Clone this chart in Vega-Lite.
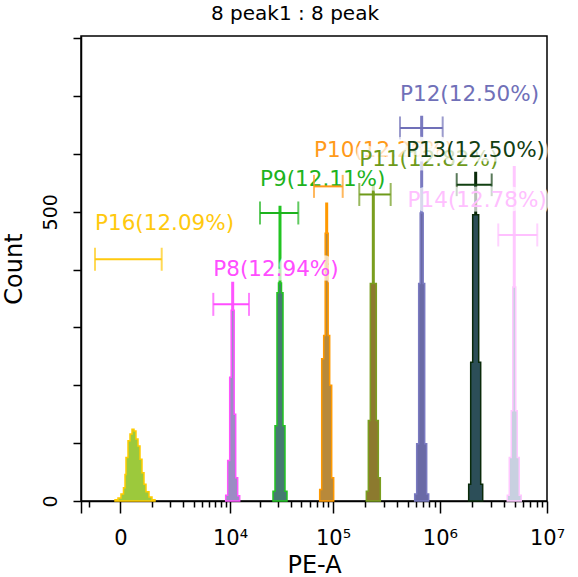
{
  "$schema": "https://vega.github.io/schema/vega-lite/v6.json",
  "width": 466,
  "height": 465,
  "autosize": {"type": "none"},
  "padding": {"left": 81, "top": 36, "right": 31, "bottom": 76},
  "background": "white",
  "title": {
    "text": "8 peak1 : 8 peak",
    "font": "DejaVu Sans",
    "fontSize": 20,
    "fontWeight": "normal",
    "color": "#000",
    "anchor": "middle",
    "dx": -19,
    "offset": -4,
    "baseline": "alphabetic"
  },
  "config": {
    "view": {"stroke": "#000", "strokeWidth": 1.5},
    "axis": {
      "domainColor": "#000",
      "domainWidth": 1.5,
      "tickColor": "#000",
      "tickWidth": 1.5,
      "grid": false,
      "labelColor": "#000",
      "titleColor": "#000",
      "labelFont": "DejaVu Sans",
      "titleFont": "DejaVu Sans",
      "titleFontWeight": "normal",
      "zindex": 1
    },
    "text": {"align": "left", "baseline": "alphabetic", "font": "DejaVu Sans", "fontSize": 21.5},
    "rule": {"strokeWidth": 2},
    "tick": {"orient": "vertical", "size": 23, "thickness": 2}
  },
  "datasets": {
    "hist": [
      {"gate": "P16", "pe": -130, "count": 2},
      {"gate": "P16", "pe": -57, "count": 5},
      {"gate": "P16", "pe": 12, "count": 12},
      {"gate": "P16", "pe": 71, "count": 23},
      {"gate": "P16", "pe": 108, "count": 46},
      {"gate": "P16", "pe": 133, "count": 75},
      {"gate": "P16", "pe": 185, "count": 104},
      {"gate": "P16", "pe": 239, "count": 116},
      {"gate": "P16", "pe": 296, "count": 124},
      {"gate": "P16", "pe": 355, "count": 121},
      {"gate": "P16", "pe": 416, "count": 107},
      {"gate": "P16", "pe": 481, "count": 95},
      {"gate": "P16", "pe": 548, "count": 72},
      {"gate": "P16", "pe": 618, "count": 49},
      {"gate": "P16", "pe": 691, "count": 29},
      {"gate": "P16", "pe": 768, "count": 16},
      {"gate": "P16", "pe": 889, "count": 7},
      {"gate": "P16", "pe": 1018, "count": 2},
      {"gate": "P16", "pe": 1156, "count": 0},
      {"gate": "P8", "pe": 9017, "count": 10},
      {"gate": "P8", "pe": 9459, "count": 70},
      {"gate": "P8", "pe": 9920, "count": 214},
      {"gate": "P8", "pe": 10279, "count": 330},
      {"gate": "P8", "pe": 10463, "count": 378},
      {"gate": "P8", "pe": 10840, "count": 330},
      {"gate": "P8", "pe": 11034, "count": 150},
      {"gate": "P8", "pe": 11429, "count": 40},
      {"gate": "P8", "pe": 11976, "count": 9},
      {"gate": "P8", "pe": 12548, "count": 0},
      {"gate": "P9", "pe": 26758, "count": 17},
      {"gate": "P9", "pe": 27980, "count": 130},
      {"gate": "P9", "pe": 29253, "count": 360},
      {"gate": "P9", "pe": 30246, "count": 377},
      {"gate": "P9", "pe": 30753, "count": 509},
      {"gate": "P9", "pe": 31793, "count": 377},
      {"gate": "P9", "pe": 32330, "count": 360},
      {"gate": "P9", "pe": 33422, "count": 130},
      {"gate": "P9", "pe": 34932, "count": 17},
      {"gate": "P9", "pe": 36512, "count": 0},
      {"gate": "P10", "pe": 74751, "count": 20},
      {"gate": "P10", "pe": 78081, "count": 246},
      {"gate": "P10", "pe": 81553, "count": 286},
      {"gate": "P10", "pe": 84257, "count": 463},
      {"gate": "P10", "pe": 85640, "count": 515},
      {"gate": "P10", "pe": 88477, "count": 463},
      {"gate": "P10", "pe": 89940, "count": 286},
      {"gate": "P10", "pe": 92917, "count": 200},
      {"gate": "P10", "pe": 97032, "count": 40},
      {"gate": "P10", "pe": 101340, "count": 0},
      {"gate": "P11", "pe": 205317, "count": 17},
      {"gate": "P11", "pe": 214383, "count": 139},
      {"gate": "P11", "pe": 223833, "count": 376},
      {"gate": "P11", "pe": 231197, "count": 376},
      {"gate": "P11", "pe": 234962, "count": 547},
      {"gate": "P11", "pe": 242685, "count": 376},
      {"gate": "P11", "pe": 246667, "count": 376},
      {"gate": "P11", "pe": 254774, "count": 139},
      {"gate": "P11", "pe": 265975, "count": 40},
      {"gate": "P11", "pe": 277704, "count": 0},
      {"gate": "P12", "pe": 582086, "count": 12},
      {"gate": "P12", "pe": 607705, "count": 99},
      {"gate": "P12", "pe": 634408, "count": 376},
      {"gate": "P12", "pe": 655215, "count": 498},
      {"gate": "P12", "pe": 665856, "count": 665},
      {"gate": "P12", "pe": 687680, "count": 498},
      {"gate": "P12", "pe": 698930, "count": 376},
      {"gate": "P12", "pe": 721838, "count": 99},
      {"gate": "P12", "pe": 753489, "count": 12},
      {"gate": "P12", "pe": 786631, "count": 0},
      {"gate": "P13", "pe": 1859000, "count": 29},
      {"gate": "P13", "pe": 1941000, "count": 240},
      {"gate": "P13", "pe": 2026000, "count": 495},
      {"gate": "P13", "pe": 2092000, "count": 495},
      {"gate": "P13", "pe": 2126000, "count": 568},
      {"gate": "P13", "pe": 2196000, "count": 495},
      {"gate": "P13", "pe": 2232000, "count": 495},
      {"gate": "P13", "pe": 2305000, "count": 240},
      {"gate": "P13", "pe": 2406000, "count": 29},
      {"gate": "P13", "pe": 2512000, "count": 0},
      {"gate": "P14", "pe": 4259000, "count": 10},
      {"gate": "P14", "pe": 4446000, "count": 75},
      {"gate": "P14", "pe": 4641000, "count": 156},
      {"gate": "P14", "pe": 4793000, "count": 370},
      {"gate": "P14", "pe": 4871000, "count": 578},
      {"gate": "P14", "pe": 5030000, "count": 370},
      {"gate": "P14", "pe": 5112000, "count": 156},
      {"gate": "P14", "pe": 5280000, "count": 75},
      {"gate": "P14", "pe": 5511000, "count": 10},
      {"gate": "P14", "pe": 5753000, "count": 0}
    ],
    "gates": [
      {"gate": "P16", "lo": -764, "hi": 1497, "y": 418, "label": "P16(12.09%)", "lx": -764, "ly": 469},
      {"gate": "P8", "lo": 6663, "hi": 15553, "y": 340, "label": "P8(12.94%)", "lx": 6663, "ly": 389},
      {"gate": "P9", "lo": 19980, "hi": 46830, "y": 498, "label": "P9(12.11%)", "lx": 19980, "ly": 545},
      {"gate": "P10", "lo": 66040, "hi": 123200, "y": 544, "label": "P10(12.26%)", "lx": 66040, "ly": 595},
      {"gate": "P11", "lo": 176400, "hi": 347100, "y": 530, "label": "P11(12.82%)", "lx": 176400, "ly": 580},
      {"gate": "P12", "lo": 424400, "hi": 1063000, "y": 645, "label": "P12(12.50%)", "lx": 424400, "ly": 691},
      {"gate": "P13", "lo": 1437000, "hi": 3048000, "y": 547, "label": "P13(12.50%)", "lx": 482000, "ly": 595},
      {"gate": "P14", "lo": 3511000, "hi": 8115000, "y": 460, "label": "P14(12.78%)", "lx": 500000, "ly": 509}
    ]
  },
  "layer": [
    {
      "data": {"name": "hist"},
      "mark": {"type": "area", "interpolate": "step-after", "strokeWidth": 1.5, "fillOpacity": 1},
      "encoding": {
        "x": {
          "field": "pe",
          "type": "quantitative",
          "scale": {"type": "symlog", "constant": 1050, "domain": [-1400, 10000000], "nice": false, "zero": false},
          "axis": {
            "title": "PE-A",
            "titleFontSize": 24,
            "titlePadding": 5,
            "tickCount": 100,
            "values": [-1400, -1000, 0, 1000, 2000, 3000, 4000, 5000, 6000, 7000, 8000, 9000, 10000, 20000, 30000, 40000, 50000, 60000, 70000, 80000, 90000, 100000, 200000, 300000, 400000, 500000, 600000, 700000, 800000, 900000, 1000000, 2000000, 3000000, 4000000, 5000000, 6000000, 7000000, 8000000, 9000000, 10000000],
            "labelExpr": "datum.value == 0 ? '0' : datum.value == 10000 ? '10⁴' : datum.value == 100000 ? '10⁵' : datum.value == 1000000 ? '10⁶' : datum.value == 10000000 ? '10⁷' : ''",
            "labelFontSize": 21,
            "labelPadding": 14,
            "labelFlush": false,
            "labelOverlap": false,
            "labelBound": false,
            "tickSize": {"condition": {"test": "indexof([-1400, 0, 10000, 100000, 1000000, 10000000], datum.value) >= 0", "value": 12}, "value": 6}
          }
        },
        "y": {
          "field": "count",
          "type": "quantitative",
          "stack": null,
          "scale": {"domain": [0, 804], "nice": false},
          "axis": {
            "title": "Count",
            "titleFontSize": 24,
            "titlePadding": 15,
            "tickCount": 100,
            "values": [0, 100, 200, 300, 400, 500, 600, 700, 800],
            "labelExpr": "datum.value == 0 || datum.value == 500 ? datum.label : ''",
            "labelAngle": -90,
            "labelAlign": "center",
            "labelBaseline": "alphabetic",
            "labelFontSize": 19,
            "labelPadding": 17,
            "tickSize": 8
          }
        },
        "fill": {
          "field": "gate",
          "type": "nominal",
          "scale": {
            "domain": ["P16", "P8", "P9", "P10", "P11", "P12", "P13", "P14"],
            "range": ["#9cc93c", "#9c8cc4", "#457a70", "#b8893a", "#8c7a2e", "#6a6aa6", "#2c4e58", "#c8d0e0"]
          },
          "legend": null
        },
        "stroke": {
          "field": "gate",
          "type": "nominal",
          "scale": {
            "domain": ["P16", "P8", "P9", "P10", "P11", "P12", "P13", "P14"],
            "range": ["#ffcc00", "#ff55ff", "#22c422", "#ff9900", "#7a9e1e", "#7a7ac0", "#0a2a0a", "#ffc8ff"]
          },
          "legend": null
        }
      }
    },
    {
      "data": {"name": "gates"},
      "transform": [{"filter": {"field": "gate", "oneOf": ["P16", "P8", "P9", "P12", "P13", "P14"]}}],
      "mark": "rule",
      "encoding": {
        "x": {"field": "lo", "type": "quantitative"},
        "x2": {"field": "hi"},
        "y": {"field": "y", "type": "quantitative"},
        "color": {
          "field": "gate",
          "type": "nominal",
          "scale": {
            "domain": ["P16", "P8", "P9", "P10", "P11", "P12", "P13", "P14"],
            "range": ["#ffc90e", "#ff4dff", "#1db31d", "#ff9a1a", "#6e9a1a", "#7070b8", "#124012", "#ffc0ff"]
          },
          "legend": null
        }
      }
    },
    {
      "data": {"name": "gates"},
      "transform": [
        {"filter": {"field": "gate", "oneOf": ["P16", "P8", "P9", "P12", "P13", "P14"]}},
        {"fold": ["lo", "hi"], "as": ["end", "edge"]}
      ],
      "mark": "tick",
      "encoding": {
        "x": {"field": "edge", "type": "quantitative"},
        "y": {"field": "y", "type": "quantitative"},
        "color": {"field": "gate", "type": "nominal", "legend": null}
      }
    },
    {
      "data": {"name": "gates"},
      "transform": [{"filter": {"field": "gate", "oneOf": ["P16", "P8", "P9"]}}],
      "mark": {"type": "text", "fill": "white", "stroke": "white", "strokeWidth": 9, "strokeJoin": "round", "opacity": 0.7},
      "encoding": {
        "x": {"field": "lx", "type": "quantitative"},
        "y": {"field": "ly", "type": "quantitative"},
        "text": {"field": "label"}
      }
    },
    {
      "data": {"name": "gates"},
      "transform": [{"filter": {"field": "gate", "oneOf": ["P16", "P8", "P9"]}}],
      "mark": "text",
      "encoding": {
        "x": {"field": "lx", "type": "quantitative"},
        "y": {"field": "ly", "type": "quantitative"},
        "text": {"field": "label"},
        "color": {"field": "gate", "type": "nominal", "legend": null}
      }
    },
    {
      "data": {"name": "gates"},
      "transform": [{"filter": {"field": "gate", "oneOf": ["P10", "P11"]}}],
      "mark": "rule",
      "encoding": {
        "x": {"field": "lo", "type": "quantitative"},
        "x2": {"field": "hi"},
        "y": {"field": "y", "type": "quantitative"},
        "color": {"field": "gate", "type": "nominal", "legend": null}
      }
    },
    {
      "data": {"name": "gates"},
      "transform": [
        {"filter": {"field": "gate", "oneOf": ["P10", "P11"]}},
        {"fold": ["lo", "hi"], "as": ["end", "edge"]}
      ],
      "mark": "tick",
      "encoding": {
        "x": {"field": "edge", "type": "quantitative"},
        "y": {"field": "y", "type": "quantitative"},
        "color": {"field": "gate", "type": "nominal", "legend": null}
      }
    },
    {
      "data": {"name": "gates"},
      "transform": [{"filter": {"field": "gate", "oneOf": ["P10", "P12", "P14"]}}],
      "mark": {"type": "text", "fill": "white", "stroke": "white", "strokeWidth": 9, "strokeJoin": "round", "opacity": 0.7},
      "encoding": {
        "x": {"field": "lx", "type": "quantitative"},
        "y": {"field": "ly", "type": "quantitative"},
        "text": {"field": "label"}
      }
    },
    {
      "data": {"name": "gates"},
      "transform": [{"filter": {"field": "gate", "oneOf": ["P10", "P12", "P14"]}}],
      "mark": "text",
      "encoding": {
        "x": {"field": "lx", "type": "quantitative"},
        "y": {"field": "ly", "type": "quantitative"},
        "text": {"field": "label"},
        "color": {"field": "gate", "type": "nominal", "legend": null}
      }
    },
    {
      "data": {"name": "gates"},
      "transform": [{"filter": {"field": "gate", "equal": "P11"}}],
      "mark": {"type": "text", "fill": "white", "stroke": "white", "strokeWidth": 9, "strokeJoin": "round", "opacity": 0.7},
      "encoding": {
        "x": {"field": "lx", "type": "quantitative"},
        "y": {"field": "ly", "type": "quantitative"},
        "text": {"field": "label"}
      }
    },
    {
      "data": {"name": "gates"},
      "transform": [{"filter": {"field": "gate", "equal": "P11"}}],
      "mark": "text",
      "encoding": {
        "x": {"field": "lx", "type": "quantitative"},
        "y": {"field": "ly", "type": "quantitative"},
        "text": {"field": "label"},
        "color": {"field": "gate", "type": "nominal", "legend": null}
      }
    },
    {
      "data": {"name": "gates"},
      "transform": [{"filter": {"field": "gate", "equal": "P13"}}],
      "mark": {"type": "text", "fill": "white", "stroke": "white", "strokeWidth": 9, "strokeJoin": "round", "opacity": 0.7},
      "encoding": {
        "x": {"field": "lx", "type": "quantitative"},
        "y": {"field": "ly", "type": "quantitative"},
        "text": {"field": "label"}
      }
    },
    {
      "data": {"name": "gates"},
      "transform": [{"filter": {"field": "gate", "equal": "P13"}}],
      "mark": "text",
      "encoding": {
        "x": {"field": "lx", "type": "quantitative"},
        "y": {"field": "ly", "type": "quantitative"},
        "text": {"field": "label"},
        "color": {"field": "gate", "type": "nominal", "legend": null}
      }
    }
  ]
}
